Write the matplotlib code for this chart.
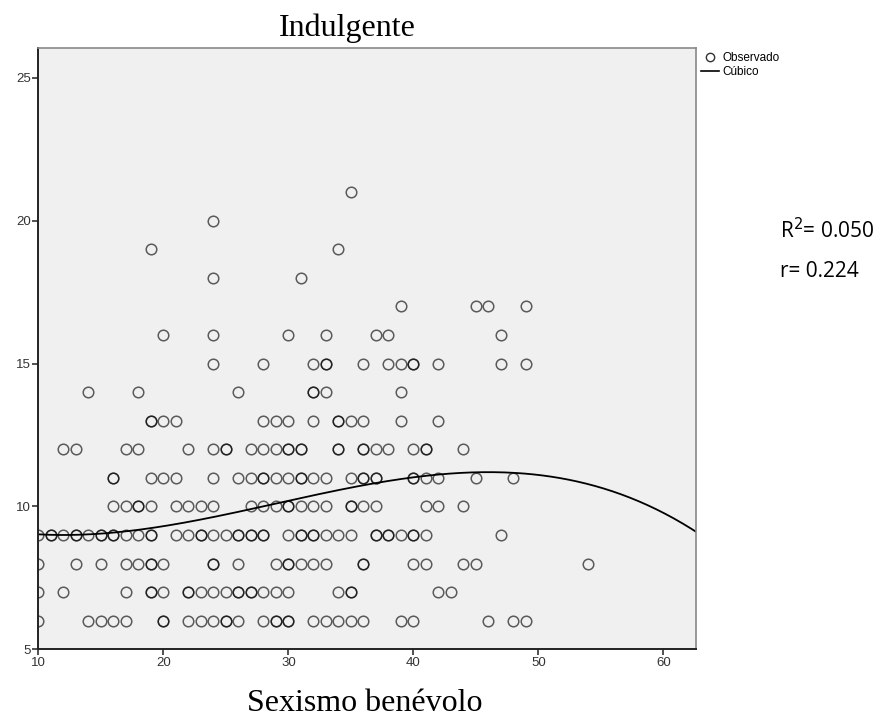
import numpy as np
import matplotlib
matplotlib.use("Agg")
import matplotlib.pyplot as plt
from matplotlib.lines import Line2D

# observed values: sexismo benevolo (x) for each indulgente level (y)
x_y6 = [10, 14, 15, 16, 17, 20, 20, 22, 23, 24, 25, 25, 26, 28, 29, 29, 30, 30,
        32, 33, 34, 35, 36, 39, 40, 46, 48, 49]
x_y7 = [10, 12, 17, 19, 19, 20, 22, 22, 23, 24, 25, 26, 26, 27, 27, 28, 29, 30,
        34, 35, 35, 42, 43]
x_y8 = [10, 13, 15, 17, 18, 19, 19, 20, 24, 24, 26, 29, 30, 30, 31, 32, 33,
        36, 36, 40, 41, 44, 45, 54]
x_y9 = [10, 11, 11, 12, 13, 13, 14, 15, 15, 16, 16, 17, 18, 19, 19, 21, 22, 23, 23,
        24, 25, 26, 26, 27, 27, 28, 28, 30, 31, 31, 32, 32, 33, 34, 35,
        37, 37, 38, 38, 39, 40, 40, 41, 47]
x_y10 = [16, 17, 18, 18, 19, 21, 22, 23, 24, 27, 28, 29, 30, 30, 31, 32, 33,
         35, 35, 36, 37, 41, 42, 44]
x_y11 = [16, 16, 19, 20, 21, 24, 26, 27, 28, 28, 29, 30, 31, 31, 32, 33, 35,
         36, 36, 37, 37, 40, 40, 41, 42, 45, 48]
x_y12 = [12, 13, 17, 18, 22, 24, 25, 25, 27, 28, 29, 30, 30, 31, 31, 34, 34,
         36, 36, 37, 38, 40, 41, 41, 44]
x_y13 = [19, 19, 20, 21, 28, 29, 30, 32, 34, 34, 35, 36, 39, 42]
x_y14 = [14, 18, 26, 32, 32, 33, 39]
x_y15 = [24, 28, 32, 33, 33, 36, 38, 39, 40, 40, 42, 47, 49]
x_y16 = [20, 24, 30, 33, 37, 38, 47]
x_y17 = [39, 45, 46, 49]
x_y18 = [24, 31]
x_y19 = [19, 34]
x_y20 = [24]
x_y21 = [35]

rows = [x_y6, x_y7, x_y8, x_y9, x_y10, x_y11, x_y12, x_y13,
        x_y14, x_y15, x_y16, x_y17, x_y18, x_y19, x_y20, x_y21]
levels = list(range(6, 22))

# cubic model: b0 + b1*x + b2*x^2 + b3*x^3
cubic_coef = [10.0155, -0.18536, 0.009738, -1.1193e-4]

xs = np.concatenate([np.array(r, dtype=float) for r in rows])
ys = np.concatenate([np.full(len(r), lv, dtype=float) for r, lv in zip(rows, levels)])

fig = plt.figure(figsize=(8.85, 7.17), dpi=100)
ax = fig.add_axes([0.0433, 0.0944, 0.7431, 0.8382])
ax.set_facecolor("#f0f0f0")

ax.plot(xs, ys, linestyle="none", marker="o", markersize=7.6,
        markerfacecolor="none", markeredgecolor=(0, 0, 0, 0.62),
        markeredgewidth=1.1)

xc = np.linspace(10, 62.6, 300)
yc = np.polyval(cubic_coef[::-1], xc)
ax.plot(xc, yc, color="black", linewidth=1.3)

ax.set_xlim(10, 62.6)
ax.set_ylim(5, 26.03)
ax.set_xticks([10, 20, 30, 40, 50, 60])
ax.set_yticks([5, 10, 15, 20, 25])
ax.tick_params(direction="out", length=4.5, width=1.2, colors="#333333",
               labelsize=9.5, pad=1)
for lab in ax.get_xticklabels() + ax.get_yticklabels():
    lab.set_family("Liberation Sans")
for side in ["left", "bottom"]:
    ax.spines[side].set_color("#222222")
    ax.spines[side].set_linewidth(1.4)
for side in ["top", "right"]:
    ax.spines[side].set_color("#888888")
    ax.spines[side].set_linewidth(1.2)

fig.text(347 / 885, 1 - 36 / 717, "Indulgente", family="Liberation Serif",
         fontsize=23, ha="center", va="baseline")
fig.text(365 / 885, 1 - 711 / 717, "Sexismo benévolo", family="Liberation Serif",
         fontsize=23, ha="center", va="baseline")

handles = [Line2D([], [], linestyle="none", marker="o", markersize=6,
                  markerfacecolor="none", markeredgecolor="#333333"),
           Line2D([], [], color="black", linewidth=1.2)]
fig.legend(handles, ["Observado", "Cúbico"], loc="upper left",
           bbox_to_anchor=(699 / 885, 1 - 50 / 717), frameon=False,
           prop={"family": "Liberation Sans", "size": 8.5}, handlelength=1.5,
           handletextpad=0.25, labelspacing=0.12, borderpad=0.2, borderaxespad=0)

fig.text(780 / 885, 1 - 238 / 717, r"R$^2$= 0.050", family="Open Sans",
         fontsize=15, ha="left", va="baseline")
fig.text(780 / 885, 1 - 277 / 717, "r= 0.224", family="Open Sans",
         fontsize=15, ha="left", va="baseline")

fig.savefig("out.png", dpi=100, facecolor="white")
